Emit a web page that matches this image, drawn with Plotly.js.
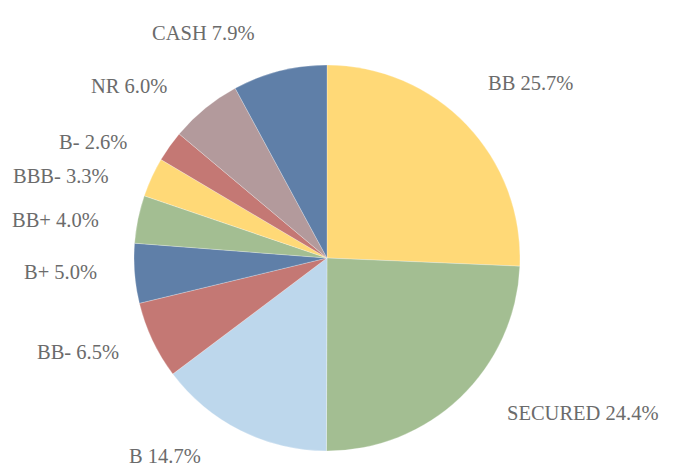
<!DOCTYPE html>
<html><head><meta charset="utf-8">
<script src="https://cdn.plot.ly/plotly-3.0.1.min.js"></script>
<style>html,body{margin:0;padding:0;background:#fff}</style>
</head><body><div id="chart" style="width:679px;height:466px"></div>
<script>
var categories = ["BB","SECURED","B","BB-","B+","BB+","BBB-","B-","NR","CASH"];
var values = [25.7,24.4,14.7,6.5,5.0,4.0,3.3,2.6,6.0,7.9];
var colors = ["#FFD977","#A3BE92","#BDD7EC","#C47874","#5F7FA8","#A3BE92","#FFD977","#C47874","#B39A9C","#5F7FA8"];
// label anchor positions (pixels in the 679x466 frame)
var labelX = [530,582,165,78,60,55,61,93,129,203];
var labelY = [83,413,456,352,272,220,176,142,86,33];

var W = 679, H = 466;
var annotations = categories.map(function(c,i){
  return {text: c + " " + values[i].toFixed(1) + "%", x: labelX[i]/W, y: 1 - labelY[i]/H,
    xref:"paper", yref:"paper", xanchor:"center", yanchor:"middle", showarrow:false,
    font:{family:"Liberation Serif, serif", size:20.5, color:"#6b6b6b"}};
});
var trace = {type:"pie", labels:categories, values:values, sort:false, direction:"clockwise", rotation:0,
  marker:{colors:colors, line:{color:"rgba(255,255,255,0.5)", width:0.5}},
  textinfo:"none", hoverinfo:"label+value", showlegend:false,
  domain:{x:[134/W, 520/W], y:[1-451/H, 1-65/H]}};
Plotly.newPlot("chart",[trace],{width:W,height:H,margin:{l:0,r:0,t:0,b:0},
  paper_bgcolor:"#fff", annotations:annotations, showlegend:false},{displayModeBar:false,staticPlot:true});
</script></body></html>
